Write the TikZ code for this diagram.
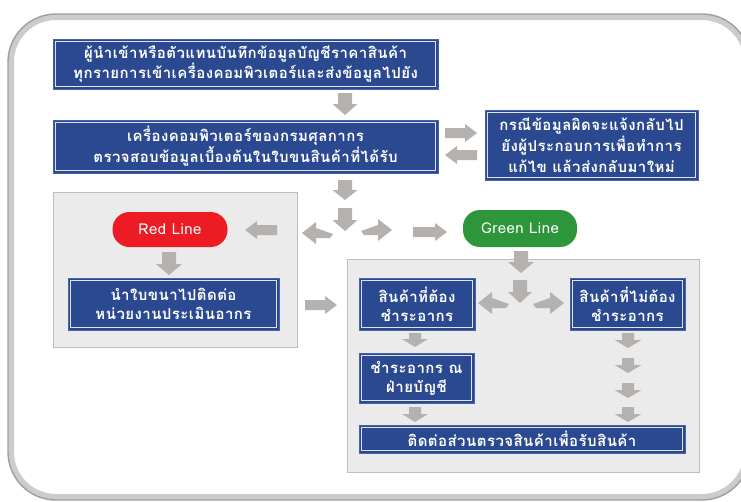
\documentclass[tikz,border=0pt]{standalone}
\usepackage{fontspec}
\newfontfamily\thai[Script=Thai,LetterSpace=3]{Loma}
\definecolor{boxblue}{RGB}{43,73,145}
\definecolor{boxedge}{RGB}{70,100,170}
\definecolor{redline}{RGB}{237,28,36}
\definecolor{greenline}{RGB}{46,150,58}
\definecolor{arrowgray}{RGB}{181,177,175}
\definecolor{panelfill}{RGB}{235,235,235}
\definecolor{paneledge}{RGB}{190,190,190}
\newcommand\barrow[7]{% x y angle length headhalf shafthalf headlength
  \begin{scope}[shift={(#1,#2)},rotate=#3]
    \fill[arrowgray] (0,-#6) -- ({#4-#7},-#6) -- ({#4-#7},-#5) -- (#4,0) -- ({#4-#7},#5) -- ({#4-#7},#6) -- (0,#6) -- cycle;
  \end{scope}}
\newcommand\bentleft[2]{%
  \fill[arrowgray] (#1,#2) -- ++(14,-11) -- ++(0,6) -- ++(17,6) -- ++(-3,4) -- ++(-14,0) -- ++(0,6) -- cycle;}
\newcommand\bentright[2]{%
  \fill[arrowgray] (#1,#2) -- ++(-14,-11) -- ++(0,6) -- ++(-17,6) -- ++(3,4) -- ++(14,0) -- ++(0,6) -- cycle;}
\begin{document}
\begin{tikzpicture}[x=1pt,y=-1pt,
  bluebox/.style={draw=boxedge, line width=0.8pt, fill=boxblue, text=white,
    font=\thai\bfseries\fontsize{15}{19}\selectfont, align=center, inner sep=0pt,
    path picture={\draw[white!85!boxblue,line width=0.7pt]
      ([xshift=2.5pt,yshift=-2.5pt]path picture bounding box.north west) rectangle
      ([xshift=-2.5pt,yshift=2.5pt]path picture bounding box.south east);}},
  pill/.style={rounded corners=17pt, text=white, inner sep=0pt,
    font=\thai\fontsize{15}{17}\selectfont},
  panel/.style={fill=panelfill, draw=paneledge, line width=1pt}]
\useasboundingbox (0,0) rectangle (741,501);
\fill[white] (0,0) rectangle (741,501);
\clip (0,0) rectangle (741,501);
% outer frame
\draw[line width=6pt, gray!40, rounded corners=45pt] (11,17) rectangle (747,497);
\draw[line width=1.4pt, gray!75, rounded corners=48pt] (8,14) rectangle (750,500);
% panels
\node[panel, minimum width=244pt, minimum height=155pt, inner sep=0pt] (lp) at (175,269.5) {};
\node[panel, minimum width=352pt, minimum height=213pt, inner sep=0pt] (rp) at (523,365.5) {};
% boxes
\node[bluebox, minimum width=385pt, minimum height=50pt] (top) at (245.5,64)
  {ผู้นำเข้าหรือตัวแทนบันทึกข้อมูลบัญชีราคาสินค้า\\ทุกรายการเข้าเครื่องคอมพิวเตอร์และส่งข้อมูลไปยัง};
\node[bluebox, minimum width=385pt, minimum height=53pt] (check) at (245.5,146.5)
  {เครื่องคอมพิวเตอร์ของกรมศุลกากร\\ตรวจสอบข้อมูลเบื้องต้นในใบขนสินค้าที่ได้รับ};
\node[bluebox, minimum width=213pt, minimum height=70pt, font=\thai\bfseries\fontsize{15}{21}\selectfont] (err) at (591.5,145)
  {กรณีข้อมูลผิดจะแจ้งกลับไป\\ยังผู้ประกอบการเพื่อทำการ\\แก้ไข แล้วส่งกลับมาใหม่};
\node[pill, fill=redline, minimum width=115pt, minimum height=35pt] (red) at (170,229.5) {Red Line};
\node[pill, fill=greenline, minimum width=114pt, minimum height=37pt] (green) at (520,228.5) {Green Line};
\node[bluebox, minimum width=211pt, minimum height=52pt] (eval) at (173.5,304)
  {นำใบขนาไปติดต่อ\\หน่วยงานประเมินอากร};
\node[bluebox, minimum width=116pt, minimum height=52pt] (pay) at (417,304)
  {สินค้าที่ต้อง\\ชำระอากร};
\node[bluebox, minimum width=115pt, minimum height=52pt] (nopay) at (627.5,304)
  {สินค้าที่ไม่ต้อง\\ชำระอากร};
\node[bluebox, minimum width=115pt, minimum height=50pt] (acct) at (416.5,378)
  {ชำระอากร ณ\\ฝ่ายบัญชี};
\node[bluebox, minimum width=326pt, minimum height=28pt] (recv) at (522,439)
  {ติดต่อส่วนตรวจสินค้าเพื่อรับสินค้า};
% block arrows
\barrow{345}{93}{-90}{22}{12.5}{7}{11}
\barrow{345}{180}{-90}{20}{12.5}{7}{10}
\barrow{345}{208}{-90}{23}{12.5}{7}{11}
\barrow{169}{252}{-90}{23}{13}{7}{11}
\barrow{521}{251}{-90}{22}{13}{7}{11}
\barrow{520}{280}{-90}{23}{12}{7}{11}
\barrow{415}{333}{-90}{14}{13}{6}{8}
\barrow{415}{407}{-90}{15}{13}{6}{8}
\barrow{628}{333}{-90}{15}{13.5}{6}{8}
\barrow{628}{358}{-90}{15}{13.5}{6}{8}
\barrow{628}{383}{-90}{15}{13.5}{6}{8}
\barrow{628}{407}{-90}{15}{13.5}{6}{8}
\barrow{445}{133}{0}{32}{9}{5}{12}
\barrow{477}{155}{180}{32}{9}{5}{12}
\barrow{277}{230}{180}{32}{9}{5}{12}
\barrow{413}{232}{0}{34}{9}{5}{12}
\barrow{305}{305}{0}{32}{9}{5}{12}
\bentleft{302}{233}
\bentright{392}{230}
\bentleft{478}{303}
\bentright{564}{303}
\end{tikzpicture}
\end{document}
